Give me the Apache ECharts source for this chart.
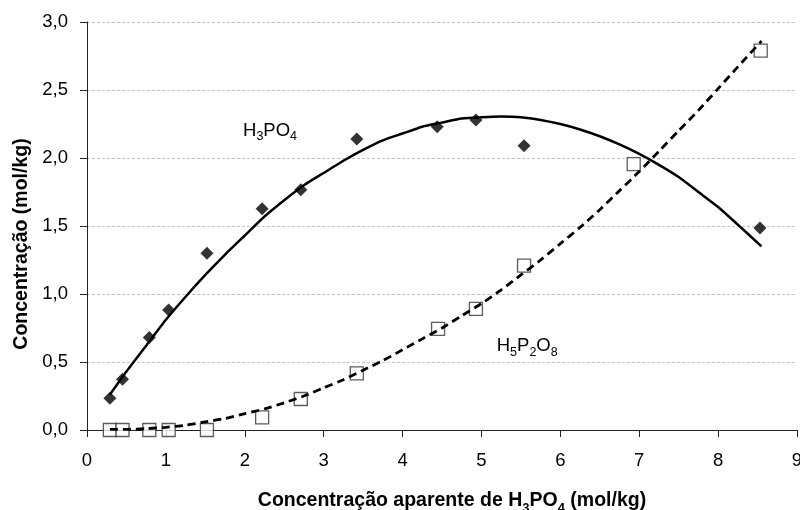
<!DOCTYPE html>
<html>
<head>
<meta charset="utf-8">
<script src="https://cdn.jsdelivr.net/npm/echarts@6/dist/echarts.min.js"></script>
<style>
html,body{margin:0;padding:0;background:#fff;}
#chart{width:800px;height:510px;}
</style>
</head>
<body>
<div id="chart"></div>
<script>
var h3po4X = [0.29, 0.45, 0.79, 1.035, 1.52, 2.22, 2.71, 3.42, 4.44, 4.93, 5.54, 8.53];
var h3po4Y = [0.233, 0.373, 0.68, 0.883, 1.30, 1.626, 1.766, 2.14, 2.23, 2.28, 2.09, 1.486];
var h5p2o8X = [0.29, 0.45, 0.79, 1.035, 1.52, 2.22, 2.71, 3.42, 4.45, 4.93, 5.54, 6.93, 8.54];
var h5p2o8Y = [0.0, 0.0, 0.0, 0.0, 0.0, 0.093, 0.228, 0.417, 0.743, 0.89, 1.209, 1.955, 2.79];
// Trend curves
var trendX = [0.29, 0.5, 0.75, 1, 1.25, 1.5, 1.75, 2, 2.25, 2.5, 2.75, 3, 3.25, 3.5, 3.75, 4, 4.25, 4.5,
              4.75, 5, 5.25, 5.5, 5.75, 6, 6.25, 6.5, 6.75, 7, 7.25, 7.5, 7.75, 8, 8.25, 8.55];
var h3po4Trend = [0.26, 0.43, 0.62, 0.81, 0.98, 1.14, 1.29, 1.43, 1.57, 1.69, 1.80, 1.89, 1.98, 2.06, 2.13, 2.18, 2.23, 2.26,
                  2.29, 2.30, 2.305, 2.30, 2.28, 2.25, 2.21, 2.16, 2.10, 2.03, 1.95, 1.86, 1.75, 1.64, 1.51, 1.35];
var h5p2o8Trend = [0.005, 0.005, 0.01, 0.02, 0.035, 0.06, 0.085, 0.12, 0.155, 0.20, 0.25, 0.31, 0.37, 0.44, 0.51, 0.59, 0.67, 0.75,
                   0.84, 0.93, 1.03, 1.14, 1.25, 1.37, 1.49, 1.62, 1.76, 1.90, 2.05, 2.20, 2.35, 2.51, 2.67, 2.86];
// Axis ticks
var xTicks = [0, 1, 2, 3, 4, 5, 6, 7, 8, 9];
var yTicks = [0, 0.5, 1.0, 1.5, 2.0, 2.5, 3.0];

function pairs(xs, ys) { return xs.map(function (x, i) { return [x, ys[i]]; }); }

var FONT = '"Liberation Sans", Arial, sans-serif';
var chart = echarts.init(document.getElementById('chart'), null, { renderer: 'canvas' });

var subRich = {
  n: { fontSize: 18.5, fontFamily: FONT, color: '#000', lineHeight: 20, verticalAlign: 'top' },
  s: { fontSize: 12.5, fontFamily: FONT, color: '#000', lineHeight: 13, padding: [9, 0, 0, 0], verticalAlign: 'top' }
};
var titleRich = {
  b: { fontSize: 19.5, fontWeight: 'bold', fontFamily: FONT, color: '#000', lineHeight: 22, verticalAlign: 'top' },
  bs: { fontSize: 13, fontWeight: 'bold', fontFamily: FONT, color: '#000', lineHeight: 13, padding: [11, 0, 0, 0], verticalAlign: 'top' }
};

chart.setOption({
  animation: false,
  backgroundColor: '#fff',
  grid: { left: 87, right: 3, top: 22, bottom: 80, containLabel: false, outerBoundsMode: 'none' },
  xAxis: {
    type: 'value',
    min: xTicks[0], max: xTicks[xTicks.length - 1], interval: 1,
    name: '{b|Concentração aparente de H}{bs|3}{b|PO}{bs|4}{b| (mol/kg)}',
    nameLocation: 'middle',
    nameGap: 61,
    nameTextStyle: { rich: titleRich, padding: [0, 0, 0, 20] },
    axisLine: { show: true, onZero: false, lineStyle: { color: '#222', width: 1 } },
    axisTick: { show: true, inside: false, length: 7, lineStyle: { color: '#222' } },
    axisLabel: { fontSize: 18.5, fontFamily: FONT, color: '#000', margin: 21 },
    splitLine: { show: false }
  },
  yAxis: {
    type: 'value',
    min: yTicks[0], max: yTicks[yTicks.length - 1], interval: 0.5,
    name: 'Concentração (mol/kg)',
    nameLocation: 'middle',
    nameGap: 50,
    nameTextStyle: { fontSize: 19.5, fontWeight: 'bold', fontFamily: FONT, color: '#000', padding: [0, 36, 0, 0] },
    axisLine: { show: true, lineStyle: { color: '#222', width: 1 } },
    axisTick: { show: true, inside: false, length: 7, lineStyle: { color: '#222' } },
    axisLabel: {
      fontSize: 18.5, fontFamily: FONT, color: '#000', margin: 19,
      formatter: function (v) { return v.toFixed(1).replace('.', ','); }
    },
    splitLine: { show: true, lineStyle: { color: '#c4c4c4', width: 1, type: [3, 2] } }
  },
  series: [
    {
      name: 'H3PO4',
      type: 'scatter',
      data: pairs(h3po4X, h3po4Y),
      symbol: 'diamond',
      symbolSize: 13,
      itemStyle: { color: '#000' },
      z: 2,
      markPoint: {
        symbol: 'circle', symbolSize: 0,
        data: [{ coord: [2.32, 2.195] }],
        label: {
          show: true, position: 'inside',
          formatter: '{n|H}{s|3}{n|PO}{s|4}',
          rich: subRich
        }
      }
    },
    {
      name: 'H5P2O8',
      type: 'scatter',
      data: pairs(h5p2o8X, h5p2o8Y),
      symbol: 'rect',
      symbolSize: 13,
      itemStyle: { color: '#fff', borderColor: '#333', borderWidth: 1.3 },
      z: 2,
      markPoint: {
        symbol: 'circle', symbolSize: 0,
        data: [{ coord: [5.58, 0.613] }],
        label: {
          show: true, position: 'inside',
          formatter: '{n|H}{s|5}{n|P}{s|2}{n|O}{s|8}',
          rich: subRich
        }
      }
    },
    {
      name: 'H3PO4 trend',
      type: 'line',
      data: pairs(trendX, h3po4Trend),
      smooth: 0.2,
      showSymbol: false,
      lineStyle: { color: '#000', width: 2.5 },
      z: 3
    },
    {
      name: 'H5P2O8 trend',
      type: 'line',
      data: pairs(trendX, h5p2o8Trend),
      smooth: 0.2,
      showSymbol: false,
      lineStyle: { color: '#000', width: 2.8, type: [8, 5] },
      z: 3
    }
  ]
});
</script>
</body>
</html>
